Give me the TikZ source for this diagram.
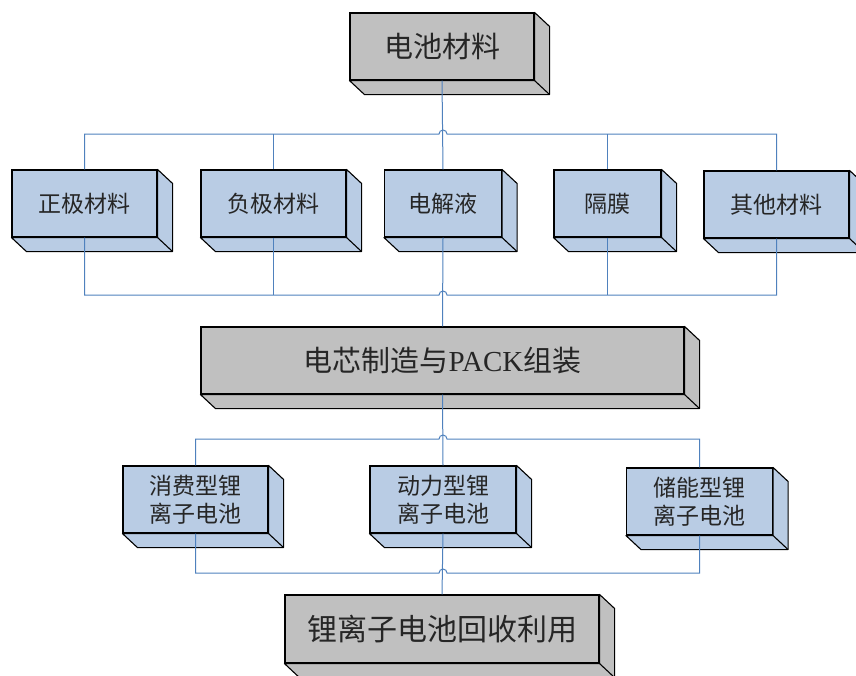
\documentclass[tikz,border=0pt]{standalone}
\usepackage{fontspec}
\setmainfont{Liberation Serif}
\newfontfamily\cjk{Noto Sans CJK SC}
\usetikzlibrary{calc}
\definecolor{slabgray}{RGB}{192,192,192}
\definecolor{slabblue}{RGB}{185,204,228}
\definecolor{linkblue}{RGB}{79,129,189}
\tikzset{
	slab/.style={draw, line width=1.1pt, inner sep=0pt, text=black!85, align=center, font=\cjk},
	link/.style={draw=linkblue, line width=1pt}
}
\def\slabdepth[#1](#2){\draw[fill=#1, line width=1.1pt, line join=round] (#2.south west) -- ++(15,14) -- ($(#2.south east)+(15,14)$) -- ($(#2.north east)+(15,14)$) -- (#2.north east) -- (#2.south east) -- cycle; \draw[line width=1.1pt] (#2.south east) -- ++(15,14);}

\begin{document}
\begin{tikzpicture}[x=1pt, y=-1pt]
			%%%%% START %%%%%
			\useasboundingbox (0, 0) rectangle (856, 675);
			
			\node[slab, fill=slabgray, minimum width=184pt, minimum height=67pt, font=\cjk\fontsize{29}{34}\selectfont] (top) at (442, 46.5) {电池材料};
			\slabdepth[slabgray](top);
			
			\node[slab, fill=slabblue, minimum width=145pt, minimum height=67pt, font=\cjk\fontsize{23}{28}\selectfont] (zj) at (84.5, 203.5) {正极材料};
			\node[slab, fill=slabblue, minimum width=145pt, minimum height=67pt, font=\cjk\fontsize{23}{28}\selectfont] (fj) at (273.5, 203.5) {负极材料};
			\node[slab, fill=slabblue, minimum width=117pt, minimum height=67pt, font=\cjk\fontsize{23}{28}\selectfont] (dj) at (443, 203.5) {电解液};
			\node[slab, fill=slabblue, minimum width=107pt, minimum height=67pt, font=\cjk\fontsize{23}{28}\selectfont] (gm) at (607.5, 203.5) {隔膜};
			\node[slab, fill=slabblue, minimum width=145pt, minimum height=67pt, font=\cjk\fontsize{23}{28}\selectfont] (qt) at (776.5, 204.5) {其他材料};
			\slabdepth[slabblue](zj);
			\slabdepth[slabblue](fj);
			\slabdepth[slabblue](dj);
			\slabdepth[slabblue](gm);
			\slabdepth[slabblue](qt);
			
			\node[slab, fill=slabgray, minimum width=483pt, minimum height=67pt, font=\cjk\fontsize{29}{34}\selectfont] (cell) at (442.5, 360.5) {电芯制造与{\rmfamily PACK}组装};
			\slabdepth[slabgray](cell);
			
			\node[slab, fill=slabblue, minimum width=145pt, minimum height=67pt, font=\cjk\fontsize{23}{28}\selectfont] (xf) at (195.5, 499.5) {消费型锂\\离子电池};
			\node[slab, fill=slabblue, minimum width=146pt, minimum height=67pt, font=\cjk\fontsize{23}{28}\selectfont] (dl) at (443, 499.5) {动力型锂\\离子电池};
			\node[slab, fill=slabblue, minimum width=146pt, minimum height=67pt, font=\cjk\fontsize{23}{28}\selectfont] (cn) at (699.5, 501.5) {储能型锂\\离子电池};
			\slabdepth[slabblue](xf);
			\slabdepth[slabblue](dl);
			\slabdepth[slabblue](cn);
			
			\node[slab, fill=slabgray, minimum width=314pt, minimum height=68pt, font=\cjk\fontsize{30}{35}\selectfont] (hs) at (442, 629) {锂离子电池回收利用};
			\slabdepth[slabgray](hs);
			
			% buses with hops over the middle line
			\coordinate (j1) at (443, 134);
			\coordinate (j2) at (443, 295);
			\coordinate (j3) at (443, 439);
			\coordinate (j4) at (443, 573);
			
			\draw[link] (top.south) -- (dj.north);
			\draw[link] (zj.north) |- ([xshift=-4pt]j1) arc (180:360:4) -| (qt.north);
			\draw[link] (fj.north) -- (fj.north |- j1);
			\draw[link] (gm.north) -- (gm.north |- j1);
			
			\draw[link] (dj.south) -- (cell.north);
			\draw[link] (zj.south) |- ([xshift=-4pt]j2) arc (180:360:4) -| (qt.south);
			\draw[link] (fj.south) -- (fj.south |- j2);
			\draw[link] (gm.south) -- (gm.south |- j2);
			
			\draw[link] (cell.south) -- (dl.north);
			\draw[link] (xf.north) |- ([xshift=-4pt]j3) arc (180:360:4) -| (cn.north);
			
			\draw[link] (dl.south) -- (hs.north);
			\draw[link] (xf.south) |- ([xshift=-4pt]j4) arc (180:360:4) -| (cn.south);
			%%%%% END %%%%%
\end{tikzpicture}
\end{document}
